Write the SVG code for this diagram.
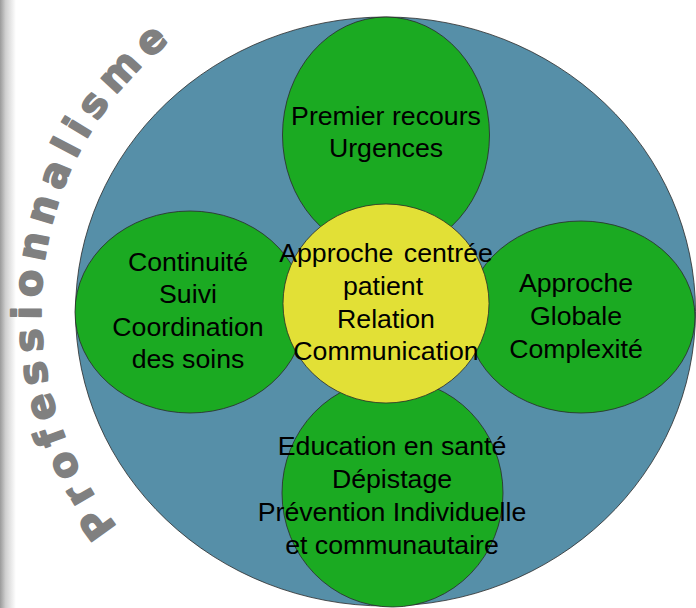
<svg xmlns="http://www.w3.org/2000/svg" width="696" height="608" viewBox="0 0 696 608">
  <defs>
    <linearGradient id="edge" x1="0" y1="0" x2="1" y2="0">
      <stop offset="0" stop-color="#9a9a9a"/>
      <stop offset="0.35" stop-color="#cfcfcf"/>
      <stop offset="1" stop-color="#ffffff"/>
    </linearGradient>
    <path id="arc" d="M117.5,527 A345,345 0 0 1 213,12"/>
  </defs>
  <style>
    .shape { stroke: #2a2a2a; stroke-width: 0.8; }
    .outer { fill: #568fa8; }
    .green { fill: #1baa22; }
    .yellow { fill: #e2e036; }
    .lbl { font-family: "Liberation Sans", Arial, sans-serif; font-size: 26.7px; fill: #000; text-anchor: middle; }
    .arc { font-family: "DejaVu Sans", "Liberation Sans", sans-serif; font-weight: bold; font-size: 40px; fill: #808080; stroke: #808080; stroke-width: 1.6; stroke-linejoin: round; letter-spacing: 8px; }
  </style>
  <rect x="0" y="0" width="696" height="608" fill="#ffffff"/>
  <rect x="0" y="0" width="16" height="608" fill="url(#edge)"/>

  <g id="professionnalisme">
    <text class="arc"><textPath href="#arc">Professionnalisme</textPath></text>
  </g>

  <g id="outer">
    <ellipse class="shape outer" cx="385.5" cy="311.5" rx="310" ry="294.5"/>
  </g>

  <g id="node-premier-recours">
    <ellipse class="shape green" cx="386" cy="135" rx="103.5" ry="118"/>
    <text class="lbl" x="386" y="125">Premier recours</text>
    <text class="lbl" x="386" y="157">Urgences</text>
  </g>

  <g id="node-continuite">
    <ellipse class="shape green" cx="190" cy="312" rx="115" ry="101"/>
    <text class="lbl" x="188" y="271">Continuité</text>
    <text class="lbl" x="188" y="303">Suivi</text>
    <text class="lbl" x="188" y="336">Coordination</text>
    <text class="lbl" x="188" y="368">des soins</text>
  </g>

  <g id="node-approche-globale">
    <ellipse class="shape green" cx="581" cy="317" rx="114" ry="96"/>
    <text class="lbl" x="576" y="292">Approche</text>
    <text class="lbl" x="576" y="325">Globale</text>
    <text class="lbl" x="576" y="358">Complexité</text>
  </g>

  <g id="node-education">
    <ellipse class="shape green" cx="392.5" cy="493" rx="110.5" ry="114"/>
    <text class="lbl" x="392" y="455">Education en santé</text>
    <text class="lbl" x="392" y="488">Dépistage</text>
    <text class="lbl" x="392" y="521">Prévention Individuelle</text>
    <text class="lbl" x="392" y="554">et communautaire</text>
  </g>

  <g id="node-centre">
    <ellipse class="shape yellow" cx="386" cy="303.5" rx="103" ry="99.5"/>
    <text class="lbl" x="386" y="262" word-spacing="3">Approche centrée</text>
    <text class="lbl" x="383" y="295">patient</text>
    <text class="lbl" x="386" y="328">Relation</text>
    <text class="lbl" x="386" y="360">Communication</text>
  </g>

  <g id="connectors"></g>
</svg>
